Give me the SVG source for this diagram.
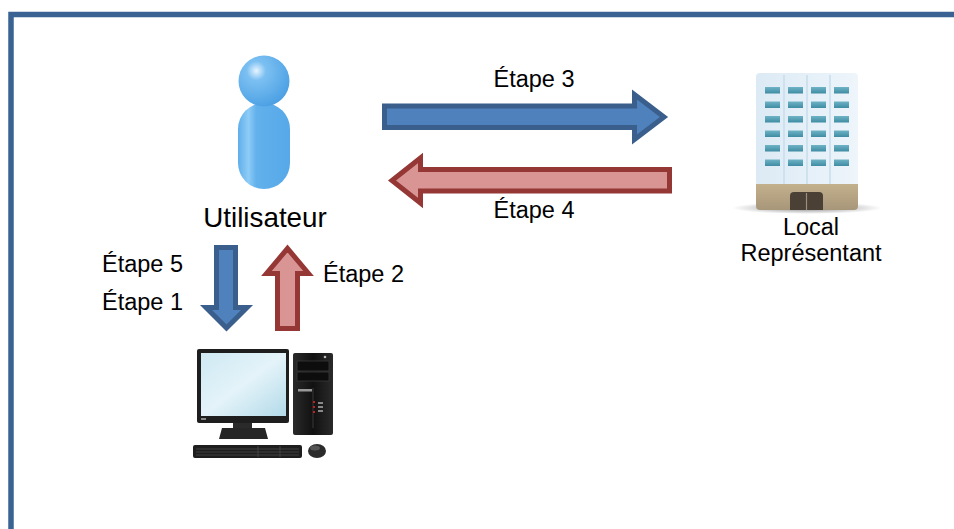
<svg xmlns="http://www.w3.org/2000/svg" width="954" height="529" viewBox="0 0 954 529">
  <style>
    .lbl { font-family: "Liberation Sans", Arial, sans-serif; font-size: 23.5px; fill: #000; }
    .big { font-size: 27.8px; }
    .blue { fill: #4F81BD; stroke: #3A5F8C; stroke-width: 5; stroke-linejoin: miter; }
    .red { fill: #D99594; stroke: #953735; stroke-width: 5; stroke-linejoin: miter; }
    .win { fill: url(#winGrad); }
  </style>
  <defs>
    <radialGradient id="headGrad" cx="0.35" cy="0.3" r="0.75">
      <stop offset="0" stop-color="#E6F4FF"/>
      <stop offset="0.25" stop-color="#7CC0F2"/>
      <stop offset="1" stop-color="#4A9FE3"/>
    </radialGradient>
    <linearGradient id="bodyGrad" x1="0" y1="0" x2="1" y2="0">
      <stop offset="0" stop-color="#5EAEEB"/>
      <stop offset="0.2" stop-color="#8ECCF6"/>
      <stop offset="0.35" stop-color="#62B1EC"/>
      <stop offset="1" stop-color="#56A8E8"/>
    </linearGradient>
    <linearGradient id="winGrad" x1="0" y1="0" x2="0" y2="1">
      <stop offset="0" stop-color="#6FB3C6"/>
      <stop offset="1" stop-color="#3F8CA3"/>
    </linearGradient>
    <linearGradient id="facadeGrad" x1="0" y1="0" x2="1" y2="0">
      <stop offset="0" stop-color="#DCEAF5"/>
      <stop offset="1" stop-color="#EEF5FB"/>
    </linearGradient>
    <linearGradient id="baseGrad" x1="0" y1="0" x2="0" y2="1">
      <stop offset="0" stop-color="#C3B08C"/>
      <stop offset="1" stop-color="#A8967A"/>
    </linearGradient>
    <radialGradient id="shadowGrad" cx="0.5" cy="0.5" r="0.5">
      <stop offset="0" stop-color="#555" stop-opacity="0.7"/>
      <stop offset="1" stop-color="#555" stop-opacity="0"/>
    </radialGradient>
    <linearGradient id="screenGrad" x1="0" y1="0" x2="1" y2="1">
      <stop offset="0" stop-color="#CFE9F3"/>
      <stop offset="0.5" stop-color="#E4F3F9"/>
      <stop offset="1" stop-color="#B2DAE8"/>
    </linearGradient>
    <linearGradient id="towerGrad" x1="0" y1="0" x2="1" y2="0">
      <stop offset="0" stop-color="#2A2A2A"/>
      <stop offset="0.5" stop-color="#111"/>
      <stop offset="1" stop-color="#2A2A2A"/>
    </linearGradient>
  </defs>

  <rect width="954" height="529" fill="#fff"/>
  <!-- outer frame, continues past the right and bottom edges -->
  <rect x="11" y="14.5" width="960" height="540" fill="none" stroke="#3A6394" stroke-width="5.5"/>

  <!-- user -->
  <g id="utilisateur">
    <rect x="238" y="103" width="52" height="86" rx="26" fill="url(#bodyGrad)"/>
    <circle cx="264" cy="81" r="25.5" fill="url(#headGrad)"/>
    <text class="lbl big" x="265" y="227" text-anchor="middle">Utilisateur</text>
  </g>

  <!-- building -->
  <g id="local">
    <ellipse cx="807" cy="208" rx="75" ry="6" fill="url(#shadowGrad)"/>
    <rect x="756" y="73" width="102" height="113" rx="4" fill="url(#facadeGrad)"/>
    <g stroke="#C6DDED" stroke-width="1.5">
      <line x1="784" y1="75" x2="784" y2="184"/>
      <line x1="807" y1="75" x2="807" y2="184"/>
      <line x1="830" y1="75" x2="830" y2="184"/>
    </g>
    <g class="win">
      <rect x="765" y="87" width="15" height="6.5"/><rect x="788" y="87" width="15" height="6.5"/><rect x="811" y="87" width="15" height="6.5"/><rect x="834" y="87" width="15" height="6.5"/>
      <rect x="765" y="101.5" width="15" height="6.5"/><rect x="788" y="101.5" width="15" height="6.5"/><rect x="811" y="101.5" width="15" height="6.5"/><rect x="834" y="101.5" width="15" height="6.5"/>
      <rect x="765" y="116" width="15" height="6.5"/><rect x="788" y="116" width="15" height="6.5"/><rect x="811" y="116" width="15" height="6.5"/><rect x="834" y="116" width="15" height="6.5"/>
      <rect x="765" y="130.5" width="15" height="6.5"/><rect x="788" y="130.5" width="15" height="6.5"/><rect x="811" y="130.5" width="15" height="6.5"/><rect x="834" y="130.5" width="15" height="6.5"/>
      <rect x="765" y="145" width="15" height="6.5"/><rect x="788" y="145" width="15" height="6.5"/><rect x="811" y="145" width="15" height="6.5"/><rect x="834" y="145" width="15" height="6.5"/>
      <rect x="765" y="159.5" width="15" height="6.5"/><rect x="788" y="159.5" width="15" height="6.5"/><rect x="811" y="159.5" width="15" height="6.5"/><rect x="834" y="159.5" width="15" height="6.5"/>
    </g>
    <path d="M756,184 H858 V206 Q858,210 854,210 H760 Q756,210 756,206 Z" fill="url(#baseGrad)"/>
    <path d="M790,210 V196 Q790,192 794,192 H819 Q823,192 823,196 V210 Z" fill="#4A4036"/>
    <line x1="806.5" y1="193" x2="806.5" y2="210" stroke="#9C8E78" stroke-width="1.2"/>
    <text class="lbl" x="811" y="235" text-anchor="middle">Local</text>
    <text class="lbl" x="811" y="261" text-anchor="middle">Représentant</text>
  </g>

  <!-- desktop computer -->
  <g id="ordinateur">
    <rect x="197" y="349" width="92" height="74" rx="2" fill="#1E1E1E"/>
    <rect x="201" y="353" width="85" height="63" fill="url(#screenGrad)"/>
    <rect x="201" y="418" width="5" height="2" fill="#888"/>
    <rect x="233" y="423" width="19" height="6" fill="#2A2A2A"/>
    <path d="M219,439 L222,428 H265 L268,439 Z" fill="#262626"/>
    <rect x="293" y="353" width="40" height="82" rx="2" fill="url(#towerGrad)"/>
    <circle cx="325" cy="357" r="1.3" fill="#bbb"/>
    <rect x="297" y="361" width="32" height="10" fill="#0D0D0D" stroke="#3A3A3A" stroke-width="0.8"/>
    <rect x="297" y="372" width="32" height="9" fill="#0D0D0D" stroke="#3A3A3A" stroke-width="0.8"/>
    <rect x="298" y="389" width="14" height="2.5" fill="#999"/>
    <line x1="313" y1="388" x2="313" y2="428" stroke="#444" stroke-width="0.8"/>
    <rect x="313" y="401" width="2" height="2" fill="#C02020"/>
    <rect x="313" y="406" width="2" height="2" fill="#C02020"/>
    <rect x="313" y="411" width="2" height="2" fill="#C02020"/>
    <rect x="318" y="402" width="5" height="2" fill="#888"/>
    <rect x="318" y="406" width="5" height="2" fill="#888"/>
    <rect x="318" y="410" width="5" height="2" fill="#888"/>
    <rect x="193" y="445" width="109" height="13" rx="2" fill="#1E1E1E"/>
    <g stroke="#4A4A4A" stroke-width="0.8">
      <line x1="196" y1="449" x2="299" y2="449"/>
      <line x1="196" y1="452" x2="299" y2="452"/>
      <line x1="196" y1="455" x2="299" y2="455"/>
      <line x1="258" y1="446" x2="258" y2="457"/>
      <line x1="280" y1="446" x2="280" y2="457"/>
    </g>
    <ellipse cx="317" cy="451" rx="9" ry="7" fill="#2B2B2B"/>
    <ellipse cx="315" cy="448" rx="5" ry="2.5" fill="#555"/>
  </g>

  <!-- step arrows and their labels -->
  <g id="connecteurs">
    <path class="blue" d="M384.5,106 H634.5 V94.5 L664,117 L634.5,139.5 V127.5 H384.5 Z"/>
    <path class="red" d="M669.5,169.5 H420.5 V158 L392,180.5 L420.5,203 V191 H669.5 Z"/>
    <path class="blue" d="M216.5,247.5 H235.5 V307.5 H247 L226.5,328 L206,307.5 H216.5 Z"/>
    <path class="red" d="M277.5,328.5 H297.5 V273.5 H308.5 L287.5,248.5 L266.5,273.5 H277.5 Z"/>
    <text class="lbl" x="534" y="87" text-anchor="middle">Étape 3</text>
    <text class="lbl" x="534" y="218" text-anchor="middle">Étape 4</text>
    <text class="lbl" x="102" y="272">Étape 5</text>
    <text class="lbl" x="102" y="310">Étape 1</text>
    <text class="lbl" x="323" y="282">Étape 2</text>
  </g>
</svg>
